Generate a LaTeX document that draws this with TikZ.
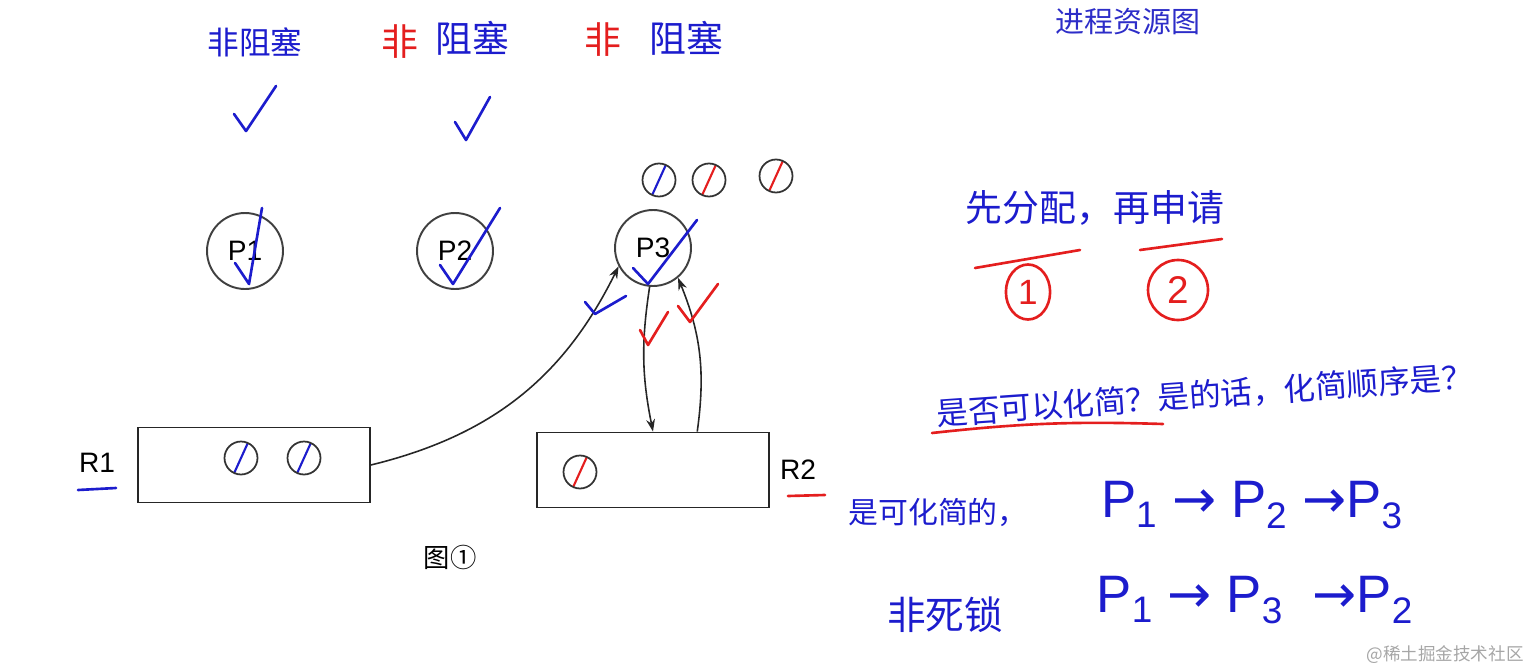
\documentclass[tikz,border=0pt]{standalone}
\usepackage{fontspec}
\setsansfont{Liberation Sans}
\newfontfamily\cjk{Noto Sans CJK SC}
\newfontfamily\sym{DejaVu Sans}
\usetikzlibrary{arrows.meta,shapes.geometric}

\definecolor{penblue}{RGB}{28,28,205}
\definecolor{penred}{RGB}{228,30,30}
\definecolor{titleblue}{RGB}{45,45,200}

\begin{document}
\begin{tikzpicture}[x=0.02cm,y=-0.02cm,
proc/.style={circle, draw=black!75, line width=1.1pt, minimum size=1.52cm, inner sep=0pt, font=\sffamily\fontsize{16}{16}\selectfont},
res/.style={rectangle, draw=black!85, line width=1.1pt, minimum width=4.64cm, minimum height=1.5cm},
unit/.style={circle, draw=black!80, line width=1pt, minimum size=0.66cm, inner sep=0pt},
unitb/.style={unit, path picture={\draw[penblue,line width=1.2pt] ([xshift=-0.15cm]path picture bounding box.south) -- ([xshift=0.15cm]path picture bounding box.north);}},
unitr/.style={unit, path picture={\draw[penred,line width=1.2pt] ([xshift=-0.15cm]path picture bounding box.south) -- ([xshift=0.15cm]path picture bounding box.north);}},
link/.style={black!85, line width=0.9pt, -{Stealth[length=7pt,width=5pt]}},
pen/.style={line width=1.5pt, line cap=round, line join=round},
hand/.style={inner sep=0pt, text=penblue, font=\cjk\fontsize{#1}{#1}\selectfont},
hand/.default=20,
seq/.style={inner sep=0pt, text=penblue, font=\sffamily\fontsize{30}{30}\selectfont}
]
    \useasboundingbox (0,0) rectangle (1523,672);

    \node [text=titleblue, font=\cjk\fontsize{16.5}{16.5}\selectfont] (title) at (1128,22) {进程资源图};

    % processes
    \node [proc] (P1) at (245,251) {P1};
    \node [proc] (P2) at (455,251) {P2};
    \node [proc] (P3) at (653,248) {P3};

    \node [unitb] (u1) at (659,180) {};
    \node [unitr] (u2) at (709,180) {};
    \node [unitr] (u3) at (776,176) {};

    % resources
    \node [res] (R1) at (254,465) {};
    \node [unitb] (r11) at (241,458) {};
    \node [unitb] (r12) at (304,458) {};
    \node [font=\sffamily\fontsize{16}{16}\selectfont] (R1lab) at (97,463) {R1};

    \node [res] (R2) at (653,470) {};
    \node [unitr] (r21) at (580,472) {};
    \node [font=\sffamily\fontsize{16}{16}\selectfont] (R2lab) at (798,470) {R2};

    \node [font=\cjk\fontsize{15}{15}\selectfont] (fig) at (450,557) {图①};

    \draw [link] (R1.east) to [bend right=25] (P3.208);
    \draw [link] (P3.265) to [bend right=10] (R2.north);
    \draw [link] (R2.41) to [bend right=15] (P3.310);

    % pen marks on the slide
    \node [hand=18] (nb1) at (255,42) {非阻塞};
    \node [hand=21, text=penred] (nb2a) at (400,42) {非};
    \node [hand=21] (nb2b) at (472,38) {阻塞};
    \node [hand=21, text=penred] (nb3a) at (603,40) {非};
    \node [hand=21] (nb3b) at (686,38) {阻塞};

    \draw [pen,penblue] (234,114) -- (246,131) -- (276,86);
    \draw [pen,penblue] (455,122) -- (466,140) -- (490,97);
    \draw [pen,penblue] (235,263) -- (249,284) -- (262,208);
    \draw [pen,penblue] (440,265) -- (453,284) -- (500,208);
    \draw [pen,penblue] (633,268) -- (648,284) -- (697,220);
    \draw [pen,penblue] (585,302) -- (595,314) -- (626,296);
    \draw [pen,penred] (640,330) -- (648,345) -- (668,312);
    \draw [pen,penred] (678,306) -- (690,322) -- (718,284);

    \draw [pen,penblue] (78,490) -- (116,488);
    \draw [pen,penred] (788,496) -- (825,495);

    \node [hand=21] (plan) at (1095,208) {先分配，再申请};
    \draw [pen,penred] (975,268) -- (1080,250);
    \draw [pen,penred] (1140,250) -- (1222,239);
    \node [ellipse, draw=penred, line width=1.5pt, minimum width=0.8cm, minimum height=1.1cm, text=penred, font=\sffamily\fontsize{20}{20}\selectfont] (one) at (1028,292) {1};
    \node [circle, draw=penred, line width=1.5pt, minimum size=1.2cm, inner sep=0pt, text=penred, font=\sffamily\fontsize{22}{22}\selectfont] (two) at (1178,290) {2};

    \node [hand=18, rotate=4] (ask) at (1205,395) {是否可以化简？是的话，化简顺序是？};
    \draw [pen,penred] (932,433) to [bend left=4] (1163,424);

    \node [hand=17] (yes) at (938,512) {是可化简的，};
    \node [seq] (seq1) at (1252,505) {P\textsubscript{1} {\sym→} P\textsubscript{2} {\sym→}P\textsubscript{3}};
    \node [hand=22] (nodl) at (945,615) {非死锁};
    \node [seq] (seq2) at (1255,600) {P\textsubscript{1} {\sym→} P\textsubscript{3} \ {\sym→}P\textsubscript{2}};

    \node [text=black!35, font=\cjk\fontsize{10}{10}\selectfont] (mark) at (1445,655) {@稀土掘金技术社区};
\end{tikzpicture}
\end{document}
